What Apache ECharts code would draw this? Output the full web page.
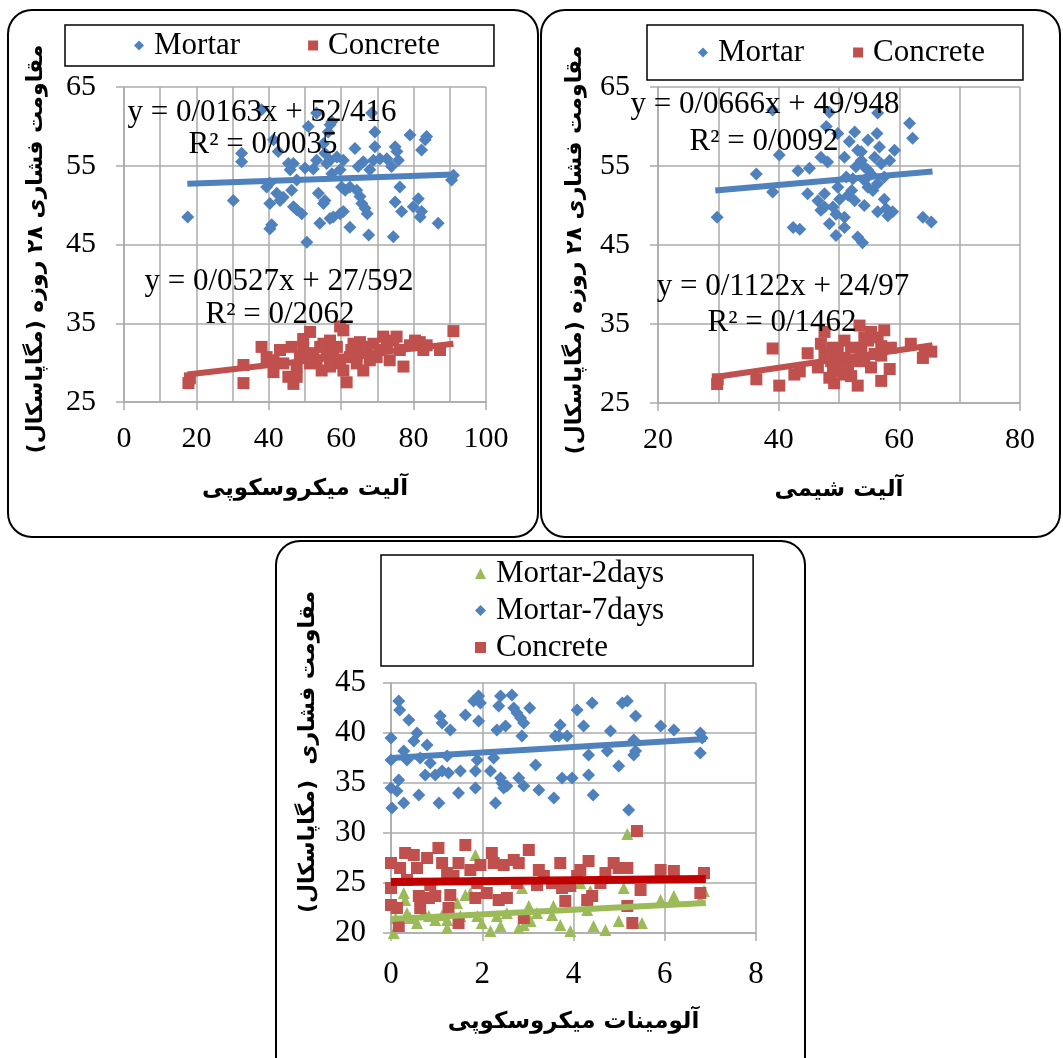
<!DOCTYPE html>
<html><head><meta charset="utf-8">
<script src="https://cdn.jsdelivr.net/npm/echarts@6/dist/echarts.min.js"></script>
<style>html,body{margin:0;padding:0;background:#fff}#c{width:1063px;height:1058px}</style>
</head><body><div id="c"></div>
<script>
// ---------- DATA ----------
// Panel 1: microscopic alite vs 28-day compressive strength
const p1Mortar = [[17.6,48.5],[30.2,50.6],[32.5,56.6],[32.5,55.5],[38.0,62.1],[41.3,58.3],[40.3,47.0],[40.8,47.5],[40.3,50.2],[42.2,51.5],[43.1,50.6],[44.0,51.0],[39.4,52.3],[42.6,56.8],[46.8,49.8],[47.7,49.4],[49.1,48.9],[45.9,54.5],[46.8,55.3],[47.7,53.2],[46.3,51.9],[50.5,45.3],[50.9,60.0],[50.0,54.7],[53.2,61.7],[54.1,47.7],[53.7,51.5],[55.1,50.2],[55.5,50.6],[56.4,59.3],[56.9,60.2],[57.4,60.6],[55.1,57.8],[55.5,56.6],[56.9,55.7],[56.9,48.3],[57.8,48.5],[59.7,48.9],[60.6,49.2],[61.1,51.9],[60.1,52.3],[59.7,54.5],[60.6,55.7],[62.4,47.2],[63.8,57.2],[64.7,54.9],[65.2,51.1],[65.7,50.2],[66.6,49.6],[67.2,48.9],[67.6,46.2],[68.4,61.7],[69.3,59.3],[69.3,57.4],[67.9,54.5],[68.9,55.7],[70.7,55.9],[72.6,55.9],[73.9,54.9],[74.4,46.0],[74.9,57.4],[75.4,56.8],[75.8,55.7],[74.9,50.4],[76.2,52.3],[76.7,49.2],[79.0,58.9],[79.9,49.8],[81.3,50.8],[81.8,48.5],[82.2,49.2],[82.2,57.0],[83.2,58.3],[83.6,58.7],[86.8,47.7],[90.5,53.2],[91.0,53.8],[53.2,55.7],[58.8,56.1],[52.3,54.6],[62.4,52.3],[64.3,51.9],[66.1,55.5],[56.0,55.3],[45.4,55.3],[40.3,52.8],[57.4,54.0]];
const p1Concrete = [[17.8,27.4],[18.2,28.0],[33.0,27.4],[33.0,29.7],[38.0,32.0],[39.4,30.7],[41.3,30.3],[41.3,28.8],[43.1,31.6],[44.0,29.9],[45.4,28.2],[46.3,32.0],[46.8,27.3],[47.7,28.2],[47.7,29.5],[48.6,30.7],[50.0,31.0],[49.5,33.0],[51.4,33.9],[53.2,30.3],[54.6,29.0],[55.1,32.4],[56.0,31.4],[56.9,29.5],[57.8,30.7],[58.8,32.0],[59.7,34.6],[60.6,34.1],[60.6,29.0],[61.5,27.5],[62.4,30.7],[63.4,32.4],[64.3,29.9],[65.2,31.2],[66.1,29.0],[67.0,32.0],[67.9,30.3],[68.9,32.4],[69.8,30.7],[70.7,31.6],[71.6,33.3],[72.6,32.0],[73.4,30.3],[74.4,32.8],[75.3,33.3],[76.2,31.6],[77.2,29.5],[79.0,32.2],[80.4,32.8],[81.7,32.6],[82.7,31.6],[83.6,32.2],[87.3,31.6],[91.0,34.0],[49.5,31.8],[52.3,31.2],[59.7,29.9],[62.8,31.6],[56.9,32.8],[65.2,32.6],[51.4,29.9],[54.2,32.0]];
const p1MortarTrend = [[17.5,52.7],[91,53.9]];
const p1ConcreteTrend = [[17.5,28.5],[91,32.4]];

// Panel 2: chemical alite
const p2Mortar = [[29.8,48.5],[36.3,54.0],[39.0,51.7],[39.0,62.1],[40.1,56.4],[42.4,47.2],[43.5,47.0],[43.2,54.4],[45.1,54.7],[44.8,51.5],[46.5,50.6],[47.0,49.4],[47.6,51.5],[47.9,60.0],[48.4,61.8],[48.1,55.5],[48.4,47.7],[49.0,49.8],[49.5,48.9],[49.5,46.2],[49.8,59.1],[49.8,52.3],[50.1,50.8],[50.9,48.5],[50.9,47.2],[51.2,53.6],[51.5,51.3],[51.7,58.1],[52.6,59.3],[52.6,50.6],[53.1,46.0],[53.9,45.3],[53.1,57.0],[53.7,55.7],[54.2,54.9],[54.2,53.2],[54.8,52.3],[54.2,50.0],[55.3,54.0],[55.9,56.1],[56.4,61.7],[56.3,59.1],[56.7,57.4],[57.0,55.3],[56.4,49.2],[57.5,50.8],[57.8,49.6],[58.1,48.7],[58.9,49.2],[57.5,53.6],[58.4,55.7],[59.2,57.0],[61.7,60.4],[62.2,58.5],[63.9,48.5],[65.3,47.9],[54.8,58.3],[52.1,51.9],[47.0,56.1],[53.7,56.8],[55.6,51.9],[52.8,54.9],[50.9,56.1],[47.6,49.8],[54.8,54.5],[52.3,53.4],[56.4,52.8]];
const p2Concrete = [[29.8,27.4],[29.9,28.0],[36.3,28.0],[39.0,31.9],[40.1,27.2],[42.6,28.6],[43.5,29.0],[44.8,31.3],[46.5,29.5],[47.0,32.5],[47.6,34.0],[47.9,30.7],[48.4,28.2],[49.0,32.0],[49.2,27.5],[49.8,29.5],[50.4,30.7],[50.9,32.9],[51.5,29.5],[52.0,28.4],[53.1,27.2],[53.4,34.8],[53.7,32.0],[54.2,30.3],[54.8,32.9],[55.3,34.0],[55.9,31.2],[56.4,33.3],[57.0,27.8],[57.5,34.2],[58.4,29.3],[58.6,32.0],[61.9,32.5],[63.9,30.7],[64.2,31.7],[65.3,31.5],[47.6,31.3],[48.7,30.3],[50.9,30.7],[52.0,32.0],[52.6,30.3],[49.8,31.6],[54.2,33.3],[57.0,32.2],[49.0,29.0],[50.9,28.6],[55.3,29.5],[57.0,31.0]];
const p2MortarTrend = [[29.5,51.9],[65.5,54.3]];
const p2ConcreteTrend = [[29.5,28.3],[65.5,32.3]];

// Panel 3: microscopic aluminate
const p3Mortar2 = [[0.06,20.0],[0.1,21.5],[0.28,24.0],[0.31,23.3],[0.35,22.0],[0.42,21.5],[0.72,22.0],[0.83,21.7],[0.97,21.3],[1.12,21.8],[1.23,20.5],[1.45,23.0],[1.52,21.7],[1.63,23.8],[1.85,27.8],[1.89,21.7],[1.99,21.0],[2.18,20.2],[2.32,21.7],[2.4,20.7],[2.54,22.0],[2.8,20.5],[2.87,24.5],[2.91,20.8],[3.02,22.7],[3.2,22.0],[3.53,21.8],[3.71,20.8],[3.93,20.2],[4.15,25.0],[4.37,24.2],[4.44,20.7],[4.7,20.3],[4.99,21.2],[5.1,24.5],[5.18,29.9],[5.5,21.0],[5.91,23.3],[6.2,23.7],[6.86,24.2],[6.78,23.3],[1.74,24.0],[3.56,22.7],[3.06,21.2],[1.23,21.3],[0.57,21.0],[4.3,22.3]];
const p3Mortar7 = [[0,39.5],[0,37.3],[0,34.5],[0.02,32.5],[0.13,34.2],[0.17,43.2],[0.19,42.3],[0.17,35.3],[0.28,33.0],[0.28,38.2],[0.39,41.3],[0.35,37.3],[0.5,39.2],[0.57,40.0],[0.61,33.8],[0.64,37.5],[0.75,35.8],[0.79,38.8],[0.86,37.0],[0.97,35.8],[1.05,33.0],[1.08,41.7],[1.12,41.0],[1.12,36.2],[1.23,37.7],[1.3,40.3],[1.26,36.0],[1.48,34.0],[1.52,36.2],[1.63,41.8],[1.85,34.5],[1.85,36.2],[1.81,43.2],[1.89,37.3],[1.92,43.7],[1.96,43.0],[1.92,41.2],[2.18,36.2],[2.25,37.5],[2.29,33.0],[2.32,40.3],[2.36,42.7],[2.4,43.7],[2.51,40.7],[2.4,35.5],[2.43,35.0],[2.47,34.5],[2.54,34.7],[2.65,43.8],[2.69,42.5],[2.76,42.0],[2.84,41.5],[2.91,41.0],[2.87,39.7],[2.91,34.7],[2.8,35.5],[3.04,42.5],[3.17,36.8],[3.24,34.3],[3.57,33.5],[3.6,39.7],[3.68,39.7],[3.71,40.8],[3.75,35.5],[3.86,39.7],[3.97,35.5],[4.08,42.3],[4.22,40.7],[4.33,37.8],[4.33,35.8],[4.41,43.0],[4.43,33.8],[4.81,40.2],[4.74,38.2],[4.99,36.7],[5.07,43.0],[5.18,43.2],[5.21,32.3],[5.36,41.7],[5.32,39.3],[5.36,38.2],[5.32,37.8],[5.91,40.7],[6.2,40.3],[6.78,40.0],[6.82,39.5],[6.78,38.0]];
const p3Concrete = [[0,27.0],[0,24.5],[0,22.8],[0.13,22.5],[0.17,20.7],[0.2,26.5],[0.31,28.0],[0.5,27.8],[0.57,26.5],[0.61,23.7],[0.64,22.5],[0.79,27.5],[0.83,23.5],[0.97,23.7],[1.04,28.5],[1.12,27.0],[1.23,26.0],[1.26,22.5],[1.3,23.8],[1.48,27.0],[1.48,21.0],[1.63,28.8],[1.85,23.5],[1.89,25.0],[1.96,26.8],[2.21,28.0],[2.25,27.0],[2.36,23.3],[2.47,26.8],[2.54,23.5],[2.69,27.3],[2.8,27.0],[2.91,21.5],[3.02,28.3],[3.2,24.8],[3.24,26.3],[3.53,25.0],[3.71,27.0],[3.75,24.5],[3.82,23.2],[3.93,24.7],[4.15,26.3],[4.33,27.2],[4.41,23.7],[4.3,23.3],[4.7,26.0],[4.88,27.0],[4.99,26.5],[5.18,26.5],[5.18,22.7],[5.29,21.0],[5.39,30.2],[5.47,24.3],[5.91,26.3],[6.2,26.2],[6.78,24.0],[6.86,26.0],[0.35,25.3],[0.86,24.8],[1.74,26.3],[2.1,24.0],[2.76,25.0],[3.35,25.7],[4.08,25.7],[4.59,25.0],[1.37,25.7]];
const p3Mortar7Trend = [[0,37.5],[6.9,39.4]];
const p3ConcreteTrend = [[0,25.1],[6.9,25.4]];
const p3Mortar2Trend = [[0,21.4],[6.9,23.0]];

// Text
const yTitle28 = 'مقاومت فشاری ۲۸ روزه (مگاپاسکال)';
const yTitle3 = 'مقاومت فشاری  (مگاپاسکال)';
const xTitles = ['آلیت میکروسکوپی', 'آلیت شیمی', 'آلومینات میکروسکوپی'];
const eqP1 = ['y = 0/0163x + 52/416', 'R² = 0/0035', 'y = 0/0527x + 27/592', 'R² = 0/2062'];
const eqP2 = ['y = 0/0666x + 49/948', 'R² = 0/0092', 'y = 0/1122x + 24/97', 'R² = 0/1462'];

// ---------- STYLE ----------
const BLUE = '#4F81BD', RED = '#C0504D', GREEN = '#9BBB59', DARKRED = '#C00000';
const GC = '#ababab';
const SERIF = '"Liberation Serif","Times New Roman",serif';
const FA = '"DejaVu Sans",sans-serif';
const rtl = s => '\u202B' + s + '\u202C';

function xAx(gi, min, max, interval, minor, name, fs, margin, gap) {
  return {
    type: 'value', gridIndex: gi, min, max, interval,
    axisLine: { show: true, onZero: false, lineStyle: { color: GC, width: 1.5 } },
    axisTick: { show: true, length: 8, lineStyle: { color: GC, width: 1.5 } },
    axisLabel: { color: '#000', fontFamily: SERIF, fontSize: fs, margin },
    splitLine: { show: true, lineStyle: { color: GC, width: 1.5 } },
    minorTick: { show: false, splitNumber: 2 },
    minorSplitLine: { show: minor, lineStyle: { color: GC, width: 1.5 } },
    name: rtl(name), nameLocation: 'middle', nameGap: gap,
    nameTextStyle: { color: '#000', fontFamily: FA, fontWeight: 'bold', fontSize: 23 }
  };
}
function yAx(gi, min, max, interval, fs, margin) {
  return {
    type: 'value', gridIndex: gi, min, max, interval,
    axisLine: { show: true, onZero: false, lineStyle: { color: GC, width: 1.5 } },
    axisTick: { show: true, length: 8, lineStyle: { color: GC, width: 1.5 } },
    axisLabel: { color: '#000', fontFamily: SERIF, fontSize: fs, margin },
    splitLine: { show: true, lineStyle: { color: GC, width: 1.5 } }
  };
}
function sc(name, data, xi, symbol, color, size) {
  return { type: 'scatter', name, data, xAxisIndex: xi, yAxisIndex: xi, symbol, symbolSize: size,
    itemStyle: { color, opacity: 1 }, z: 2, silent: true };
}
function tr(name, data, xi, color, w) {
  return { type: 'line', name, data, xAxisIndex: xi, yAxisIndex: xi, showSymbol: false, symbol: 'none',
    lineStyle: { color, width: w }, z: 4, silent: true };
}
function txt(text, x, y, fs) {
  return { type: 'text', z: 100, style: { text, x, y, fill: '#000', font: fs + 'px ' + SERIF,
    textAlign: 'center', textVerticalAlign: 'middle' } };
}
function vtxt(text, x, y, fs) {
  return { type: 'text', z: 100, x, y, rotation: Math.PI / 2,
    style: { text: rtl(text), x: 0, y: 0, fill: '#000', font: 'bold ' + fs + 'px ' + FA,
      textAlign: 'center', textVerticalAlign: 'middle' } };
}
function box(x, y, w, h) {
  return { type: 'rect', z: 0, shape: { x, y, width: w, height: h, r: 24 },
    style: { fill: 'none', stroke: '#000', lineWidth: 2 } };
}
const legText = { color: '#000', fontFamily: SERIF, fontSize: 31, lineHeight: 31, padding: [0, 0, 0, 5] };

const option = {
  animation: false,
  backgroundColor: '#fff',
  grid: [
    { left: 124, top: 87, width: 362, height: 315 },
    { left: 658, top: 87, width: 362, height: 316 },
    { left: 391, top: 683, width: 365, height: 250 }
  ],
  xAxis: [
    xAx(0, 0, 100, 20, true, xTitles[0], 30, 22, 76),
    xAx(1, 20, 80, 20, true, xTitles[1], 30, 22, 76),
    xAx(2, 0, 8, 2, false, xTitles[2], 31, 26, 78)
  ],
  yAxis: [
    yAx(0, 25, 65, 10, 30, 28),
    yAx(1, 25, 65, 10, 30, 28),
    yAx(2, 20, 45, 5, 31, 25)
  ],
  legend: [
    { left: 65, top: 25, orient: 'horizontal', padding: [5, 54, 5, 69], itemGap: 68,
      itemWidth: 10, itemHeight: 10, borderColor: '#000', borderWidth: 1.5, textStyle: legText,
      data: [{ name: 'Mortar', icon: 'diamond' }, { name: 'Concrete', icon: 'rect' }] },
    { left: 647, top: 25, orient: 'horizontal', padding: [12, 38, 12, 51], itemGap: 49,
      itemWidth: 10, itemHeight: 10, borderColor: '#000', borderWidth: 1.5, textStyle: legText,
      data: [{ name: 'Mortar', icon: 'diamond' }, { name: 'Concrete', icon: 'rect' }] },
    { left: 381, top: 555, orient: 'vertical', padding: [3, 89, 3, 94], itemGap: 6,
      itemWidth: 11, itemHeight: 11, borderColor: '#000', borderWidth: 1.5, textStyle: legText,
      data: [{ name: 'Mortar-2days', icon: 'triangle' }, { name: 'Mortar-7days', icon: 'diamond' }, { name: 'Concrete', icon: 'rect' }] }
  ],
  series: [
    sc('Mortar', p1Mortar, 0, 'diamond', BLUE, 13),
    sc('Concrete', p1Concrete, 0, 'rect', RED, 12),
    tr('t1m', p1MortarTrend, 0, BLUE, 6),
    tr('t1c', p1ConcreteTrend, 0, RED, 6),
    sc('Mortar', p2Mortar, 1, 'diamond', BLUE, 13),
    sc('Concrete', p2Concrete, 1, 'rect', RED, 12),
    tr('t2m', p2MortarTrend, 1, BLUE, 6),
    tr('t2c', p2ConcreteTrend, 1, RED, 6),
    sc('Mortar-2days', p3Mortar2, 2, 'triangle', GREEN, 12),
    sc('Mortar-7days', p3Mortar7, 2, 'diamond', BLUE, 13),
    sc('Concrete', p3Concrete, 2, 'rect', RED, 12),
    tr('t3m7', p3Mortar7Trend, 2, BLUE, 6),
    tr('t3m2', p3Mortar2Trend, 2, GREEN, 6),
    tr('t3c', p3ConcreteTrend, 2, DARKRED, 8)
  ],
  graphic: [
    box(8, 10, 530, 527),
    box(541, 10, 519, 527),
    box(276, 541, 529, 540),
    vtxt(yTitle28, 36, 249, 22),
    vtxt(yTitle28, 575, 250, 22),
    vtxt(yTitle3, 308, 752, 22),
    txt(eqP1[0], 262, 113, 31), txt(eqP1[1], 263, 145, 31),
    txt(eqP1[2], 279, 282, 31), txt(eqP1[3], 280, 315, 31),
    txt(eqP2[0], 765, 105, 31), txt(eqP2[1], 764, 142, 31),
    txt(eqP2[2], 783, 287, 31), txt(eqP2[3], 782, 323, 31)
  ]
};
const chart = echarts.init(document.getElementById('c'), null, { renderer: 'canvas' });
chart.setOption(option);
</script>
</body></html>
